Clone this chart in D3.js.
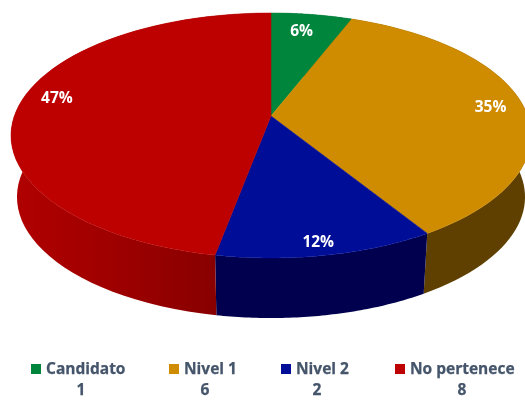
<!DOCTYPE html>
<html>
<head>
<meta charset="utf-8">
<script src="https://cdnjs.cloudflare.com/ajax/libs/d3/7.8.5/d3.min.js"></script>
<style>
  html, body { margin: 0; padding: 0; background: #fff; overflow: hidden; }
  text { font-family: "Open Sans", sans-serif; font-weight: 700; }
</style>
</head>
<body>
<div id="chart"></div>
<script>
var categories = ["Candidato", "Nivel 1", "Nivel 2", "No pertenece"];
var counts = [1, 6, 2, 8];
var percentLabels = ["6%", "35%", "12%", "47%"];
var topColors = ["#00853e", "#cf8c00", "#000c96", "#bd0000"];
var sideColors = ["#004d24", "#5f4100", "#00004f", "url(#redSide)"];

var svgWidth = 525;
var svgHeight = 400;

// perspective of the tilted disc, fitted to the picture
var apex = { x: 271, y: 116 };
var tilt = 0.159;
var radiusX = 256.7;
var radiusY = 119.4;
var topEllipseY = 135.5;
var bottomEllipseY = 197;

var svg = d3.select("#chart")
  .append("svg")
  .attr("width", svgWidth)
  .attr("height", svgHeight)
  .style("display", "block");

var defs = svg.append("defs");
defs.append("filter").attr("id", "soft")
  .append("feGaussianBlur").attr("stdDeviation", 0.4);

// red wall fades towards the top colour on the far left
var redSide = defs.append("linearGradient")
  .attr("id", "redSide")
  .attr("gradientUnits", "userSpaceOnUse")
  .attr("x1", 15).attr("x2", 217).attr("y1", 0).attr("y2", 0);
redSide.append("stop").attr("offset", "0%").attr("stop-color", "#b00000");
redSide.append("stop").attr("offset", "45%").attr("stop-color", "#a00000");
redSide.append("stop").attr("offset", "100%").attr("stop-color", "#880000");

function project(angle, r) {
  var u = Math.sin(angle) * r;
  var v = -Math.cos(angle) * r;
  var w = 1 - tilt * v;
  return [apex.x + radiusX * u / w, apex.y + radiusY * v / w];
}

// the lower rim is the same disc, slightly smaller and further down
function projectBottom(angle) {
  var p = project(angle, 1);
  return [apex.x + (p[0] - apex.x) * 0.977, bottomEllipseY + (p[1] - topEllipseY) * 0.988];
}

function rimAngles(d) {
  return d3.range(0, 61).map(i => d.startAngle + (d.endAngle - d.startAngle) * i / 60);
}

var pie = d3.pie().sort(null).startAngle(0).endAngle(2 * Math.PI);
var slices = pie(counts);
var line = d3.line();

var chart = svg.append("g").attr("filter", "url(#soft)");

// side walls first, the top face covers the back part
chart.selectAll("path.side")
  .data(slices)
  .enter()
  .append("path")
  .attr("class", "side")
  .attr("fill", (d, i) => sideColors[i])
  .attr("d", d => {
    var angles = rimAngles(d);
    return line(angles.map(a => project(a, 1)).concat(angles.slice().reverse().map(projectBottom))) + "Z";
  });

chart.selectAll("path.top")
  .data(slices)
  .enter()
  .append("path")
  .attr("class", "top")
  .attr("fill", (d, i) => topColors[i])
  .attr("stroke", (d, i) => topColors[i])
  .attr("stroke-width", 0.5)
  .attr("d", d => line([[apex.x, apex.y]].concat(rimAngles(d).map(a => project(a, 1)))) + "Z");

// label nudges from the radial position
var labelOffsets = [[-3, -2], [0, 0], [1, 11], [-2, -9]];
var labelRadius = [0.8, 0.87, 0.85, 0.84];

chart.selectAll("text.pct")
  .data(slices)
  .enter()
  .append("text")
  .attr("class", "pct")
  .attr("text-anchor", "middle")
  .attr("font-size", 15.5)
  .attr("fill", "#fff")
  .attr("x", (d, i) => project((d.startAngle + d.endAngle) / 2, labelRadius[i])[0] + labelOffsets[i][0])
  .attr("y", (d, i) => project((d.startAngle + d.endAngle) / 2, labelRadius[i])[1] + labelOffsets[i][1] + 5)
  .text((d, i) => percentLabels[i]);

// legend
var legendX = [31, 169, 281, 395];
var countX = [81, 205, 317, 462];

var legend = svg.append("g").attr("filter", "url(#soft)");

legend.selectAll("rect")
  .data(categories)
  .enter()
  .append("rect")
  .attr("x", (d, i) => legendX[i])
  .attr("y", 364)
  .attr("width", 10)
  .attr("height", 10)
  .attr("fill", (d, i) => topColors[i]);

legend.selectAll("text.name")
  .data(categories)
  .enter()
  .append("text")
  .attr("class", "name")
  .attr("x", (d, i) => legendX[i] + 15)
  .attr("y", 374)
  .attr("font-size", 15.5)
  .attr("fill", "#44546a")
  .attr("stroke", "#44546a")
  .attr("stroke-width", 0.25)
  .text(d => d);

legend.selectAll("text.count")
  .data(counts)
  .enter()
  .append("text")
  .attr("class", "count")
  .attr("x", (d, i) => countX[i])
  .attr("y", 395)
  .attr("text-anchor", "middle")
  .attr("font-size", 15.5)
  .attr("fill", "#44546a")
  .attr("stroke", "#44546a")
  .attr("stroke-width", 0.25)
  .text(d => d);
</script>
</body>
</html>
